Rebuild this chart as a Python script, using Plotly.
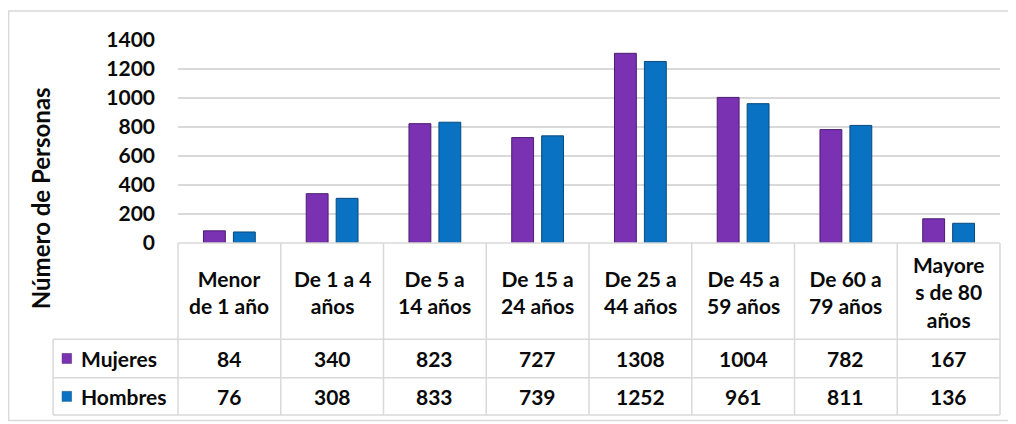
import plotly.graph_objects as go

categories = ["Menor<br>de 1 año", "De 1 a 4<br>años", "De 5 a<br>14 años", "De 15 a<br>24 años",
              "De 25 a<br>44 años", "De 45 a<br>59 años", "De 60 a<br>79 años", "Mayore<br>s de 80<br>años"]
mujeres = [84, 340, 823, 727, 1308, 1004, 782, 167]
hombres = [76, 308, 833, 739, 1252, 961, 811, 136]
series_names = ["Mujeres", "Hombres"]
y_ticks = [0, 200, 400, 600, 800, 1000, 1200, 1400]

OFF = 8  # page body margin
W, H = 1008, 416
# screen-pixel geometry of the plot area
SX0, SX1, SY0, SY1 = 178, 1000.5, 39.5, 243
L, R, T, B = SX0 - OFF, W - (SX1 - OFF), SY0 - OFF, H - (SY1 - OFF)
PW, PH = W - L - R, H - T - B
FONT = "Lato"
GRID = "#D9D9D9"
TXT = "#0A0A0A"
COL_M, COL_H = "#7A32B2", "#0A72C2"
EDGE_M, EDGE_H = "#4B1C70", "#08497C"

def px(x):
    return (x - SX0) / PW

def py(y):
    return (SY1 - y) / PH

def fnt(size=21):
    return dict(family=FONT, size=size, color=TXT, weight="bold")

n = len(categories)
xs = list(range(n))

fig = go.Figure()
fig.add_trace(go.Bar(x=xs, y=mujeres, name=series_names[0], marker=dict(color=COL_M, line=dict(color=EDGE_M, width=1))))
fig.add_trace(go.Bar(x=xs, y=hombres, name=series_names[1], marker=dict(color=COL_H, line=dict(color=EDGE_H, width=1))))

shapes = []
annotations = []

def line(x0, y0, x1, y1, color=GRID, width=1.5):
    shapes.append(dict(type="line", xref="paper", yref="paper", x0=x0, y0=y0, x1=x1, y1=y1,
                       line=dict(color=color, width=width), layer="above"))

# table geometry (screen pixels)
y_top, y_hdr, y_r1, y_r2 = 243, 339.5, 378, 415.5
x_leg = 53
line(0, py(y_top), 1, py(y_top))
for yy in (y_hdr, y_r1, y_r2):
    line(px(x_leg), py(yy), 1, py(yy))
line(px(x_leg), py(y_hdr), px(x_leg), py(y_r2))
for i in range(n + 1):
    xp = i / n
    line(xp, py(y_top), xp, py(y_r2))

# outer chart border
shapes.append(dict(type="rect", xref="paper", yref="paper", x0=px(8.5), y0=py(421), x1=px(1014), y1=py(10.5),
                   line=dict(color="#D9D9D9", width=1.5), layer="below"))

# header texts
for i, c in enumerate(categories):
    annotations.append(dict(x=i, xref="x", y=py((y_top + y_hdr) / 2 + 1), yref="paper", text=c, showarrow=False,
                            font=fnt(), align="center", xanchor="center", yanchor="middle"))
# data rows
rows = [(mujeres, COL_M, EDGE_M, y_hdr, y_r1), (hombres, COL_H, EDGE_H, y_r1, y_r2)]
for (vals, col, edge, ya, yb), name in zip(rows, series_names):
    yc = (ya + yb) / 2
    for i, v in enumerate(vals):
        annotations.append(dict(x=i, xref="x", y=py(yc), yref="paper", text=str(v), showarrow=False,
                                font=fnt(), xanchor="center", yanchor="middle"))
    shapes.append(dict(type="rect", xref="paper", yref="paper", x0=px(62), x1=px(71.5),
                       y0=py(yc + 5), y1=py(yc - 5), fillcolor=col, line=dict(color=edge, width=0.5), layer="above"))
    annotations.append(dict(x=px(79), xref="paper", y=py(yc), yref="paper", text=name, showarrow=False,
                            font=fnt(), xanchor="left", yanchor="middle"))

# y axis title
annotations.append(dict(x=px(40), xref="paper", y=py(198), yref="paper", text="Número de Personas",
                        showarrow=False, textangle=-90, font=fnt(24),
                        xanchor="center", yanchor="middle"))

fig.update_layout(
    width=W, height=H,
    margin=dict(l=L, r=R, t=T, b=B, autoexpand=False),
    paper_bgcolor="white", plot_bgcolor="white",
    showlegend=False,
    barmode="group", bargap=0.417, bargroupgap=0.27,
    shapes=shapes, annotations=annotations,
    xaxis=dict(range=[-0.5, n - 0.5], showticklabels=False, showgrid=False, zeroline=False, showline=False,
               ticks=""),
    yaxis=dict(range=[0, 1400], tickvals=y_ticks, showgrid=True, gridcolor=GRID, gridwidth=1.5,
               zeroline=False, showline=False, ticks="", ticklabelstandoff=22,
               tickfont=fnt()),
)

fig.write_html("out.html")
